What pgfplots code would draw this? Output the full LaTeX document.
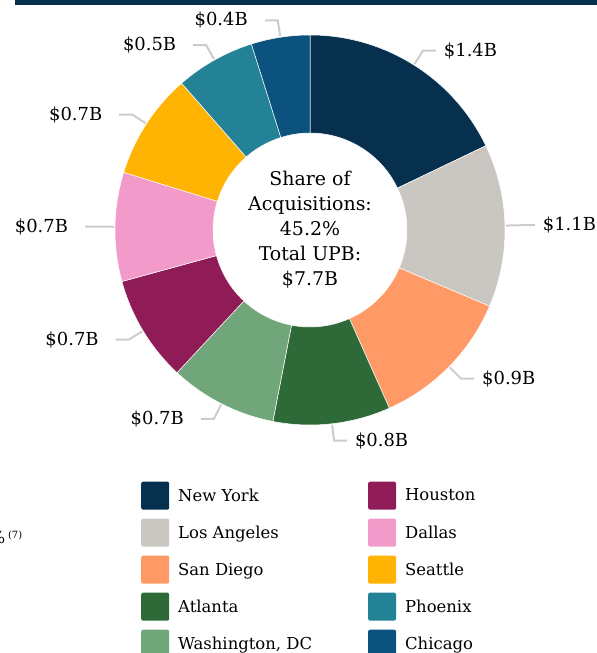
\documentclass[border=0pt]{standalone}
\usepackage{pgfplots}
\pgfplotsset{compat=1.18}
\usepackage{pgfplotstable}
\usepackage{fontspec}
\setmainfont{DejaVu Serif}

\definecolor{cNY}{HTML}{06304E}
\definecolor{cLA}{HTML}{CAC6C1}
\definecolor{cSD}{HTML}{FF9966}
\definecolor{cAT}{HTML}{2E6A37}
\definecolor{cWA}{HTML}{71A67A}
\definecolor{cHO}{HTML}{8F1B57}
\definecolor{cDA}{HTML}{F29AC9}
\definecolor{cSE}{HTML}{FFB302}
\definecolor{cPH}{HTML}{238295}
\definecolor{cCH}{HTML}{0B527F}
\definecolor{leader}{HTML}{CCCCCC}

% value = UPB in $B (share of the ring), label = rounded value printed
\pgfplotstableread{
city value label color
NY 1.381 1.4 cNY
LA 1.042 1.1 cLA
SD 0.922 0.9 cSD
AT 0.750 0.8 cAT
WA 0.686 0.7 cWA
HO 0.680 0.7 cHO
DA 0.697 0.7 cDA
SE 0.678 0.7 cSE
PH 0.508 0.5 cPH
CH 0.375 0.4 cCH
}\donut

\begin{document}
\begin{tikzpicture}
\useasboundingbox (0,0) rectangle (597bp,653bp);
\def\total{0}
\pgfplotsforeachungrouped \i in {0,...,9}{%
  \pgfplotstablegetelem{\i}{value}\of\donut
  \pgfmathsetmacro\total{\total+\pgfplotsretval}}
\begin{axis}[
  at={(0bp,653bp)}, anchor=north west,
  x=1bp, y=1bp, scale only axis,
  xmin=0, xmax=597, ymin=0, ymax=653, y dir=reverse,
  hide axis, clip=false,
  legend columns=2,
  legend cell align=left,
  legend image code/.code={\fill[#1, draw=none, rounded corners=2bp] (0bp,-14bp) rectangle (28bp,14bp);},
  legend style={at={(axis cs:141,481.5)}, anchor=north west, draw=none, fill=none,
    font=\fontsize{16.5}{20}\selectfont, row sep=9bp, inner sep=0pt,
    /tikz/every odd column/.append style={column sep=7bp},
    /tikz/every even column/.append style={column sep=54bp}},
]
\addlegendimage{fill=cNY}\addlegendentry{New York}
\addlegendimage{fill=cHO}\addlegendentry{Houston}
\addlegendimage{fill=cLA}\addlegendentry{Los Angeles}
\addlegendimage{fill=cDA}\addlegendentry{Dallas}
\addlegendimage{fill=cSD}\addlegendentry{San Diego}
\addlegendimage{fill=cSE}\addlegendentry{Seattle}
\addlegendimage{fill=cAT}\addlegendentry{Atlanta}
\addlegendimage{fill=cPH}\addlegendentry{Phoenix}
\addlegendimage{fill=cWA}\addlegendentry{Washington, DC}
\addlegendimage{fill=cCH}\addlegendentry{Chicago}

\fill[cNY] (axis cs:15,0) rectangle (axis cs:597,5);

\pgfplotsextra{%
  \def\astart{90}%
  \pgfplotsforeachungrouped \i in {0,...,9}{%
    \pgfplotstablegetelem{\i}{value}\of\donut \let\v\pgfplotsretval
    \pgfplotstablegetelem{\i}{color}\of\donut \let\c\pgfplotsretval
    \pgfplotstablegetelem{\i}{label}\of\donut \let\lab\pgfplotsretval
    \pgfmathsetmacro\aend{\astart-360*\v/\total}%
    \pgfmathsetmacro\amid{(\astart+\aend)/2}%
    \pgfmathsetmacro\cx{cos(\amid)}%
    \begin{scope}[shift={(axis cs:310,230)}]
      \fill[\c, draw=white, line width=0.5bp] (\astart:195bp) arc[start angle=\astart, end angle=\aend, radius=195bp]
        -- (\aend:97bp) arc[start angle=\aend, end angle=\astart, radius=97bp] -- cycle;
      \ifdim\cx pt<0pt
        \draw[leader, line width=2bp] (\amid:196bp) -- (\amid:212bp) -- ++(-13bp,0)
          node[anchor=east, text=black, inner xsep=16bp, inner ysep=3bp, font=\fontsize{18}{20}\selectfont] {\$\lab B};
      \else
        \draw[leader, line width=2bp] (\amid:196bp) -- (\amid:212bp) -- ++(13bp,0)
          node[anchor=west, text=black, inner xsep=7bp, inner ysep=3bp, font=\fontsize{18}{20}\selectfont] {\$\lab B};
      \fi
    \end{scope}
    \let\astart\aend
  }%
}

\node[align=center, font=\fontsize{19}{25}\selectfont] at (axis cs:310,230)
  {Share of\\Acquisitions:\\45.2\%\\Total UPB:\\\$7.7B};

\node[anchor=base west, inner sep=0pt] at (axis cs:-10.5,543)
  {\fontsize{16.5}{20}\selectfont\%\,\raisebox{5bp}{\fontsize{10}{10}\selectfont(7)}};
\end{axis}
\end{tikzpicture}
\end{document}
